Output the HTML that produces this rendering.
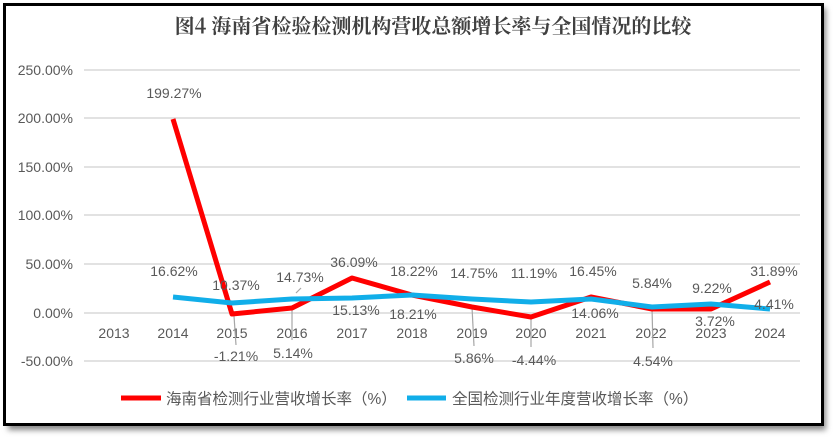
<!DOCTYPE html>
<html><head><meta charset="utf-8"><style>
body{margin:0;background:#fff;width:834px;height:438px;overflow:hidden}
svg{display:block}
text{font-family:"Liberation Sans","Noto Sans CJK SC",sans-serif;fill:#595959;font-size:14px}
</style></head><body>
<svg width="834" height="438" viewBox="0 0 834 438">
<defs><filter id="sh" x="-5%" y="-5%" width="110%" height="115%"><feGaussianBlur stdDeviation="3"/></filter></defs>
<rect x="8" y="8" width="818" height="422" fill="#888" filter="url(#sh)"/>
<rect x="4.5" y="4.5" width="818" height="420" fill="#fff" stroke="#000" stroke-width="3"/>
<text x="433" y="33" text-anchor="middle" style="font-family:'Noto Serif CJK SC','Noto Sans CJK SC',serif;font-size:20px;font-weight:bold;fill:#404040">图4  海南省检验检测机构营收总额增长率与全国情况的比较</text>
<g stroke="#d9d9d9" stroke-width="1.5">
<line x1="84" y1="70" x2="800" y2="70"/><line x1="84" y1="118" x2="800" y2="118"/><line x1="84" y1="167" x2="800" y2="167"/><line x1="84" y1="215" x2="800" y2="215"/><line x1="84" y1="264" x2="800" y2="264"/><line x1="84" y1="313" x2="800" y2="313"/><line x1="84" y1="361" x2="800" y2="361"/>
</g>
<g text-anchor="end">
<text x="73" y="75">250.00%</text><text x="73" y="123">200.00%</text><text x="73" y="172">150.00%</text><text x="73" y="220">100.00%</text><text x="73" y="269">50.00%</text><text x="73" y="318">0.00%</text><text x="73" y="366">-50.00%</text>
</g>
<g text-anchor="middle">
<text x="114" y="338">2013</text><text x="173" y="338">2014</text><text x="232" y="338">2015</text><text x="292" y="338">2016</text><text x="352" y="338">2017</text><text x="412" y="338">2018</text><text x="472" y="338">2019</text><text x="531" y="338">2020</text><text x="591" y="338">2021</text><text x="651" y="338">2022</text><text x="711" y="338">2023</text><text x="770" y="338">2024</text>
</g>
<g stroke="#a6a6a6" stroke-width="1.2">
<line x1="234" y1="316" x2="236" y2="345"/><line x1="292" y1="308" x2="292" y2="340"/><line x1="472" y1="307" x2="474" y2="346"/><line x1="531" y1="317" x2="531" y2="347"/><line x1="652" y1="308" x2="653" y2="348"/><line x1="296" y1="293" x2="301" y2="288"/>
</g>
<polyline fill="none" stroke="#ff0000" stroke-width="5" stroke-linejoin="round" points="173,119 232,314 292,308 352,278 412,295 472,307 531,317 591,297 652,309 711,309 770,282"/>
<polyline fill="none" stroke="#11aee9" stroke-width="5" stroke-linejoin="round" points="173,297 232,303 292,299 352,298 412,295 472,299 531,302 591,299 652,307 711,304 770,309"/>
<g text-anchor="middle">
<text x="174" y="98">199.27%</text>
<text x="174" y="276">16.62%</text>
<text x="236" y="290">10.37%</text>
<text x="236" y="361">-1.21%</text>
<text x="300" y="282">14.73%</text>
<text x="293" y="358">5.14%</text>
<text x="354" y="267">36.09%</text>
<text x="356" y="315">15.13%</text>
<text x="414" y="276">18.22%</text>
<text x="413" y="319">18.21%</text>
<text x="474" y="278">14.75%</text>
<text x="474" y="363">5.86%</text>
<text x="534" y="278">11.19%</text>
<text x="534" y="365">-4.44%</text>
<text x="593" y="276">16.45%</text>
<text x="595" y="318">14.06%</text>
<text x="652" y="288">5.84%</text>
<text x="653" y="366">4.54%</text>
<text x="712" y="293">9.22%</text>
<text x="715" y="326">3.72%</text>
<text x="774" y="276">31.89%</text>
<text x="774" y="309">4.41%</text>
</g>
<line x1="121" y1="398" x2="161" y2="398" stroke="#ff0000" stroke-width="5"/>
<text x="166" y="404" style="font-size:15.5px">海南省检测行业营收增长率（%）</text>
<line x1="407" y1="398" x2="446" y2="398" stroke="#11aee9" stroke-width="5"/>
<text x="452" y="404" style="font-size:15.5px">全国检测行业年度营收增长率（%）</text>
</svg>
</body></html>
